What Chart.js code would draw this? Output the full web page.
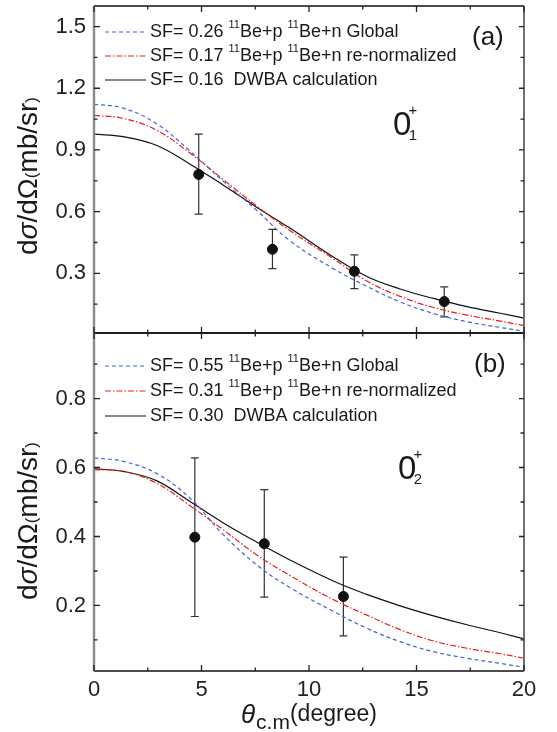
<!DOCTYPE html>
<html>
<head>
<meta charset="utf-8">
<script src="https://cdn.jsdelivr.net/npm/chart.js@4.4.0/dist/chart.umd.min.js"></script>
<style>
    body { margin: 0; background: #fff; width: 557px; height: 732px; position: relative; overflow: hidden; }
    .panel { position: absolute; left: 0; width: 557px; }
</style>
</head>
<body>
<div class="panel" style="top:0;height:340px"><canvas id="chartA"></canvas></div>
<div class="panel" style="top:320px;height:412px"><canvas id="chartB"></canvas></div>
<script>
const FONT = '"Liberation Sans", Arial, Helvetica, sans-serif';

// Panel (a): 0+1 state, measured points with error bars
const thetaA = [4.87, 8.30, 12.11, 16.29];
const sigmaA = [0.781, 0.417, 0.310, 0.163];
const errHiA = [0.977, 0.514, 0.390, 0.234];
const errLoA = [0.588, 0.323, 0.226, 0.088];

// theory curves share the same angle grid
const thetaCurve = [0, 1.35, 2.9, 4.45, 6.0, 7.56, 9.11, 11.13, 12.69, 14.24, 15.79, 17.35, 18.9, 20];
const globalA = [1.122, 1.104, 1.028, 0.896, 0.749, 0.607, 0.459, 0.323, 0.237, 0.161, 0.105, 0.065, 0.037, 0.019];
const renormA = [1.068, 1.054, 0.997, 0.886, 0.757, 0.628, 0.508, 0.371, 0.263, 0.188, 0.134, 0.097, 0.068, 0.046];
const dwbaA   = [0.977, 0.965, 0.923, 0.832, 0.730, 0.622, 0.520, 0.380, 0.285, 0.224, 0.178, 0.138, 0.106, 0.082];

// Panel (b): 0+2 state
const thetaB = [4.69, 7.92, 11.60];
const sigmaB = [0.398, 0.379, 0.226];
const errHiB = [0.628, 0.536, 0.340];
const errLoB = [0.168, 0.224, 0.112];

const globalB = [0.628, 0.618, 0.583, 0.512, 0.406, 0.318, 0.252, 0.183, 0.134, 0.095, 0.066, 0.047, 0.032, 0.021];
const renormB = [0.594, 0.589, 0.555, 0.490, 0.420, 0.347, 0.287, 0.217, 0.172, 0.130, 0.097, 0.076, 0.060, 0.047];
const dwbaB   = [0.596, 0.589, 0.562, 0.502, 0.440, 0.384, 0.332, 0.271, 0.232, 0.199, 0.170, 0.144, 0.121, 0.103];

// axis ticks
const yTicksA = [0.3, 0.6, 0.9, 1.2, 1.5];
const yMinorA = [0.15, 0.45, 0.75, 1.05, 1.35];
const yTicksB = [0.2, 0.4, 0.6, 0.8];
const yMinorB = [0.1, 0.3, 0.5, 0.7, 0.9];
const xTicks = [0, 5, 10, 15, 20];
const xMinor = [2.5, 7.5, 12.5, 17.5];

// legend text ('^' marks a superscript piece)
const legendA = [
    ['SF= 0.26 ', '^11', 'Be+p ', '^11', 'Be+n Global'],
    ['SF= 0.17 ', '^11', 'Be+p ', '^11', 'Be+n re-normalized'],
    ['SF= 0.16  DWBA calculation']
];
const legendB = [
    ['SF= 0.55 ', '^11', 'Be+p ', '^11', 'Be+n Global'],
    ['SF= 0.31 ', '^11', 'Be+p ', '^11', 'Be+n re-normalized'],
    ['SF= 0.30  DWBA calculation']
];

const BLUE = 'rgb(65, 100, 210)';
const RED = 'rgb(235, 30, 30)';
const BLACK = '#111';
const STYLES = [
    { color: BLUE, dash: [4, 3] },
    { color: RED, dash: [6, 2, 1.5, 2] },
    { color: BLACK, dash: [] }
];

function curve(data, style) {
    return {
        data: thetaCurve.map((x, i) => ({ x: x, y: data[i] })),
        showLine: true,
        borderColor: style.color,
        borderWidth: 1.2,
        borderDash: style.dash,
        pointRadius: 0,
        tension: 0.4,
        fill: false
    };
}

function points(theta, sigma) {
    return {
        data: theta.map((x, i) => ({ x: x, y: sigma[i] })),
        pointRadius: 5,
        pointBackgroundColor: BLACK,
        pointBorderColor: BLACK,
        showLine: false
    };
}

function drawRich(ctx, parts, x, y, size) {
    let cx = x;
    parts.forEach(p => {
        if (p[0] === '^') {
            ctx.font = Math.round(size * 0.6) + 'px ' + FONT;
            ctx.fillText(p.slice(1), cx, y - size * 0.38);
            cx += ctx.measureText(p.slice(1)).width;
        } else {
            ctx.font = size + 'px ' + FONT;
            ctx.fillText(p, cx, y);
            cx += ctx.measureText(p).width;
        }
    });
}

function drawYTitle(ctx, cx, cy) {
    const pieces = [
        ['d', '', 28], ['σ', 'italic ', 28], ['/d', '', 28], ['Ω', '', 28],
        ['(', '', 17], ['mb/sr', '', 28], [')', '', 17]
    ];
    ctx.save();
    ctx.translate(cx, cy);
    ctx.rotate(-Math.PI / 2);
    ctx.textBaseline = 'alphabetic';
    ctx.textAlign = 'left';
    let total = 0;
    pieces.forEach(p => { ctx.font = p[1] + p[2] + 'px ' + FONT; total += ctx.measureText(p[0]).width; });
    let x = -total / 2;
    pieces.forEach(p => {
        ctx.font = p[1] + p[2] + 'px ' + FONT;
        ctx.fillText(p[0], x, 10);
        x += ctx.measureText(p[0]).width;
    });
    ctx.restore();
}

function decor(cfg) {
    return {
        id: 'decor' + cfg.tag,
        beforeDatasetsDraw(chart) {
            const { ctx, scales: { x, y } } = chart;
            ctx.save();
            ctx.strokeStyle = '#333';
            ctx.lineWidth = 1.2;
            cfg.theta.forEach((t, i) => {
                const px = x.getPixelForValue(t);
                const yh = y.getPixelForValue(cfg.hi[i]);
                const yl = y.getPixelForValue(cfg.lo[i]);
                ctx.beginPath();
                ctx.moveTo(px, yh); ctx.lineTo(px, yl);
                ctx.moveTo(px - 4, yh); ctx.lineTo(px + 4, yh);
                ctx.moveTo(px - 4, yl); ctx.lineTo(px + 4, yl);
                ctx.stroke();
            });
            ctx.restore();
        },
        afterDraw(chart) {
            const { ctx, chartArea: a, scales: { x, y } } = chart;
            ctx.save();

            // frame
            ctx.lineWidth = 1.6;
            ctx.strokeStyle = BLACK;
            ctx.beginPath();
            ctx.moveTo(a.left, a.top); ctx.lineTo(a.right, a.top);
            ctx.moveTo(a.left, a.bottom); ctx.lineTo(a.right, a.bottom);
            ctx.stroke();
            ctx.lineWidth = 2.4;
            ctx.strokeStyle = '#8a8a8a';
            ctx.beginPath();
            ctx.moveTo(a.left, a.top); ctx.lineTo(a.left, a.bottom);
            ctx.stroke();
            ctx.lineWidth = 2;
            ctx.strokeStyle = '#707070';
            ctx.beginPath();
            ctx.moveTo(a.right, a.top); ctx.lineTo(a.right, a.bottom);
            ctx.stroke();

            // inward tick marks
            ctx.lineWidth = 1.3;
            ctx.strokeStyle = '#222';
            ctx.beginPath();
            cfg.yMajor.forEach(v => {
                const py = y.getPixelForValue(v);
                ctx.moveTo(a.left, py); ctx.lineTo(a.left + 6, py);
                ctx.moveTo(a.right, py); ctx.lineTo(a.right - 5, py);
            });
            cfg.yMinor.forEach(v => {
                const py = y.getPixelForValue(v);
                ctx.moveTo(a.left, py); ctx.lineTo(a.left + 3.5, py);
                ctx.moveTo(a.right, py); ctx.lineTo(a.right - 3.5, py);
            });
            xTicks.forEach(v => {
                const px = x.getPixelForValue(v);
                ctx.moveTo(px, a.top); ctx.lineTo(px, a.top + 6);
                ctx.moveTo(px, a.bottom); ctx.lineTo(px, a.bottom - 6);
            });
            xMinor.forEach(v => {
                const px = x.getPixelForValue(v);
                ctx.moveTo(px, a.top); ctx.lineTo(px, a.top + 3.5);
                ctx.moveTo(px, a.bottom); ctx.lineTo(px, a.bottom - 3.5);
            });
            ctx.stroke();

            // legend
            ctx.fillStyle = '#1a1a1a';
            ctx.textBaseline = 'middle';
            ctx.textAlign = 'left';
            cfg.legend.forEach((parts, i) => {
                const ly = cfg.legendY + i * cfg.legendDy;
                ctx.save();
                ctx.strokeStyle = STYLES[i].color;
                ctx.lineWidth = 1.2;
                ctx.setLineDash(STYLES[i].dash);
                ctx.beginPath();
                ctx.moveTo(105, ly); ctx.lineTo(146, ly);
                ctx.stroke();
                ctx.restore();
                drawRich(ctx, parts, 150, ly, 18);
            });

            // panel tag and state label
            ctx.font = '26px ' + FONT;
            ctx.fillText(cfg.tag, cfg.tagX, cfg.tagY);
            ctx.font = '33px ' + FONT;
            ctx.fillText('0', cfg.stateX, cfg.stateY);
            ctx.textAlign = 'center';
            ctx.font = '15px ' + FONT;
            ctx.fillText('+', cfg.stateX + 20, cfg.stateY - 15);
            ctx.fillText(cfg.stateSub, cfg.stateX + 20, cfg.stateY + 10);

            drawYTitle(ctx, 27, cfg.yTitleY);

            if (cfg.xTitle) {
                ctx.textAlign = 'left';
                ctx.textBaseline = 'alphabetic';
                let tx = 241;
                ctx.font = 'italic 26px ' + FONT;
                ctx.fillText('θ', tx, 403);
                tx += ctx.measureText('θ').width + 1;
                ctx.font = '21px ' + FONT;
                ctx.fillText('c.m', tx, 409);
                tx += ctx.measureText('c.m').width;
                ctx.font = '23px ' + FONT;
                ctx.fillText('(degree)', tx, 401);
            }
            ctx.restore();
        }
    };
}

function yScale(min, max, ticks) {
    return {
        type: 'linear',
        min: min,
        max: max,
        grid: { display: false },
        border: { display: false },
        afterBuildTicks: function(scale) {
            scale.ticks = ticks.map(v => ({ value: v }));
        },
        afterFit: function(scale) {
            scale.width = 94;
            scale.paddingTop = 0;
            scale.paddingBottom = 0;
        },
        ticks: {
            padding: 0,
            color: '#222',
            font: { family: FONT, size: 22 },
            callback: function(value) { return value.toFixed(1); }
        }
    };
}

document.addEventListener('DOMContentLoaded', function() {
    // Panel (a)
    new Chart(document.getElementById('chartA').getContext('2d'), {
        type: 'scatter',
        data: {
            datasets: [
                points(thetaA, sigmaA),
                curve(globalA, STYLES[0]),
                curve(renormA, STYLES[1]),
                curve(dwbaA, STYLES[2])
            ]
        },
        options: {
            responsive: true,
            maintainAspectRatio: false,
            animation: false,
            layout: { padding: { left: 0, right: 33, top: 3, bottom: 7 } },
            plugins: { legend: { display: false }, tooltip: { enabled: false } },
            scales: {
                x: { type: 'linear', min: 0, max: 20, display: false },
                y: yScale(0.01, 1.6, yTicksA)
            }
        },
        plugins: [decor({
            tag: '(a)', tagX: 472, tagY: 38,
            theta: thetaA, hi: errHiA, lo: errLoA,
            yMajor: yTicksA, yMinor: yMinorA,
            legend: legendA, legendY: 32, legendDy: 24,
            stateX: 393, stateY: 126, stateSub: '1',
            yTitleY: 176, xTitle: false
        })]
    });

    // Panel (b)
    new Chart(document.getElementById('chartB').getContext('2d'), {
        type: 'scatter',
        data: {
            datasets: [
                points(thetaB, sigmaB),
                curve(globalB, STYLES[0]),
                curve(renormB, STYLES[1]),
                curve(dwbaB, STYLES[2])
            ]
        },
        options: {
            responsive: true,
            maintainAspectRatio: false,
            animation: false,
            layout: { padding: { left: 0, right: 33, top: 13, bottom: 0 } },
            plugins: { legend: { display: false }, tooltip: { enabled: false } },
            scales: {
                x: {
                    type: 'linear',
                    min: 0,
                    max: 20,
                    grid: { display: false },
                    border: { display: false },
                    afterBuildTicks: function(scale) {
                        scale.ticks = xTicks.map(v => ({ value: v }));
                    },
                    afterFit: function(scale) {
                        scale.height = 61;
                        scale.paddingLeft = 0;
                        scale.paddingRight = 0;
                    },
                    ticks: {
                        padding: -2,
                        color: '#222',
                        maxRotation: 0,
                        font: { family: FONT, size: 22 }
                    }
                },
                y: yScale(0.01, 0.99, yTicksB)
            }
        },
        plugins: [decor({
            tag: '(b)', tagX: 474, tagY: 45,
            theta: thetaB, hi: errHiB, lo: errLoB,
            yMajor: yTicksB, yMinor: yMinorB,
            legend: legendB, legendY: 46, legendDy: 25,
            stateX: 398, stateY: 150, stateSub: '2',
            yTitleY: 201, xTitle: true
        })]
    });
});
</script>
</body>
</html>
